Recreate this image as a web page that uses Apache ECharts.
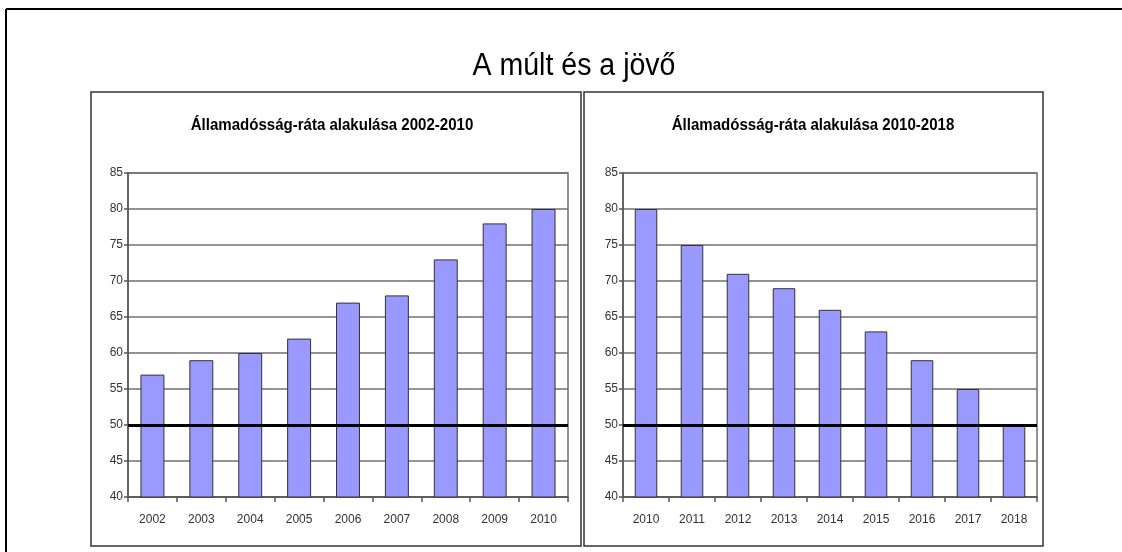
<!DOCTYPE html>
<html>
<head>
<meta charset="utf-8">
<script src="https://cdn.jsdelivr.net/npm/echarts@6/dist/echarts.min.js"></script>
<style>
  html, body { margin: 0; padding: 0; background: #fff; }
  #chart { width: 1122px; height: 552px; }
</style>
</head>
<body>
<div id="chart"></div>
<script>
// adatok
const mainTitle = "A múlt és a jövő";
const leftTitle = "Államadósság-ráta alakulása 2002-2010";
const rightTitle = "Államadósság-ráta alakulása 2010-2018";
const leftYears = ["2002", "2003", "2004", "2005", "2006", "2007", "2008", "2009", "2010"];
const leftValues = [57, 59, 60, 62, 67, 68, 73, 78, 80];
const rightYears = ["2010", "2011", "2012", "2013", "2014", "2015", "2016", "2017", "2018"];
const rightValues = [80, 75, 71, 69, 66, 63, 59, 55, 50];
const limitValue = 50;

const font = '"Liberation Sans", Arial, sans-serif';

var myChart = echarts.init(document.getElementById("chart"));

function yAxisCfg(idx) {
  return {
    type: "value",
    gridIndex: idx,
    min: 40,
    max: 85,
    interval: 5,
    axisLine: { show: true, lineStyle: { color: "#555", width: 1.5 } },
    axisTick: { show: true, length: 4, lineStyle: { color: "#555", width: 1.5 } },
    axisLabel: { color: "#333", fontSize: 12, fontFamily: font, margin: 5 },
    splitLine: { show: true, lineStyle: { color: "#707070", width: 1.5 } },
  };
}

function xAxisCfg(idx, data) {
  return {
    type: "category",
    gridIndex: idx,
    data: data,
    axisLine: { show: true, lineStyle: { color: "#555", width: 1.5 } },
    axisTick: { show: true, length: 5, lineStyle: { color: "#555", width: 1.5 } },
    axisLabel: { color: "#333", fontSize: 12, fontFamily: font, margin: 17 },
  };
}

function barSeries(idx, values) {
  return {
    type: "bar",
    xAxisIndex: idx,
    yAxisIndex: idx,
    data: values,
    barWidth: "49%",
    itemStyle: { color: "#9999ff", borderColor: "#333", borderWidth: 1 },
    markLine: {
      silent: true,
      symbol: "none",
      label: { show: false },
      lineStyle: { color: "#000", width: 3, type: "solid" },
      data: [{ yAxis: limitValue }],
    },
  };
}

// cím szöveg, vízszintesen kicsit összenyomva (keskeny betű helyett)
function titleText(text, x, y, size, weight, sx) {
  return {
    type: "text",
    x: x,
    y: y,
    scaleX: sx,
    style: {
      text: text,
      x: 0,
      y: 0,
      align: "center",
      verticalAlign: "middle",
      fill: "#000",
      font: weight + " " + size + "px " + font,
    },
  };
}

var option = {
  animation: false,
  backgroundColor: "#fff",
  grid: [
    { left: 128, top: 173, width: 440, height: 324, show: true, borderColor: "#707070", borderWidth: 1.5 },
    { left: 623, top: 173, width: 414, height: 324, show: true, borderColor: "#707070", borderWidth: 1.5 },
  ],
  xAxis: [xAxisCfg(0, leftYears), xAxisCfg(1, rightYears)],
  yAxis: [yAxisCfg(0), yAxisCfg(1)],
  series: [barSeries(0, leftValues), barSeries(1, rightValues)],
  graphic: [
    // külső keret
    { type: "line", shape: { x1: 6, y1: 9, x2: 1122, y2: 9 }, style: { stroke: "#000", lineWidth: 2 } },
    { type: "line", shape: { x1: 6, y1: 9, x2: 6, y2: 552 }, style: { stroke: "#000", lineWidth: 2 } },
    // panelek
    { type: "rect", shape: { x: 91, y: 92, width: 490, height: 454 }, style: { fill: null, stroke: "#333", lineWidth: 1.5 } },
    { type: "rect", shape: { x: 584, y: 92, width: 459, height: 454 }, style: { fill: null, stroke: "#333", lineWidth: 1.5 } },
    titleText(mainTitle, 574, 66, 31, "normal", 0.92),
    titleText(leftTitle, 332, 126, 16, "bold", 0.94),
    titleText(rightTitle, 813, 126, 16, "bold", 0.94),
  ],
};

myChart.setOption(option);
</script>
</body>
</html>
